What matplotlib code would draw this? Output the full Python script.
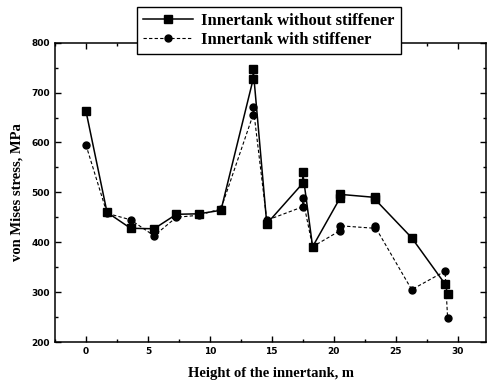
import matplotlib
matplotlib.use("Agg")
import matplotlib.pyplot as plt
from matplotlib.ticker import MultipleLocator

x_without = [0, 1.7, 3.6, 5.5, 7.3, 9.1, 10.9, 13.5, 13.5, 14.6, 17.5, 17.5, 18.3, 20.5, 20.5, 23.3, 23.3, 26.3, 29.0, 29.2]
y_without = [663, 460, 428, 427, 456, 457, 464, 727, 747, 437, 518, 540, 391, 488, 496, 490, 487, 409, 316, 297]

x_with = [0, 1.7, 3.6, 5.5, 7.3, 9.1, 10.9, 13.5, 13.5, 14.6, 17.5, 17.5, 18.3, 20.5, 20.5, 23.3, 23.3, 26.3, 29.0, 29.2]
y_with = [595, 458, 445, 413, 450, 454, 467, 656, 672, 444, 471, 488, 391, 423, 433, 428, 433, 305, 342, 248]

label_without = "Innertank without stiffener"
label_with = "Innertank with stiffener"

fig = plt.figure(figsize=(4.88, 3.85), dpi=100)
ax = fig.add_axes([55/488, 1-342/385, 431/488, (342-42.7)/385])

ax.plot(x_without, y_without, color="black", lw=1.1, marker="s", ms=6, label=label_without)
ax.plot(x_with, y_with, color="black", lw=0.8, ls=(0, (3, 2)), marker="o", ms=5, label=label_with)

ax.set_xlim(-2.5, 32.3)
ax.set_ylim(200, 800)
ax.xaxis.set_major_locator(MultipleLocator(5))
ax.xaxis.set_minor_locator(MultipleLocator(2.5))
ax.yaxis.set_major_locator(MultipleLocator(100))
ax.yaxis.set_minor_locator(MultipleLocator(50))
ax.tick_params(which="both", direction="in", top=True, right=True, labelsize=6.5)
ax.tick_params(which="major", length=4, width=1)
ax.tick_params(which="minor", length=2, width=1)
for lab in ax.get_xticklabels() + ax.get_yticklabels():
    lab.set_fontweight("bold")
    lab.set_family("DejaVu Sans")
for s in ax.spines.values():
    s.set_linewidth(1.1)

ax.set_xlabel("Height of the innertank, m", family="Liberation Serif", fontweight="bold", fontsize=10.5, labelpad=8)
ax.set_ylabel("von Mises stress, MPa", family="Liberation Serif", fontweight="bold", fontsize=10.5, labelpad=6)

leg = fig.legend(loc="upper center", bbox_to_anchor=(269/488, 1-7/385),
                 prop={"family": "Liberation Serif", "weight": "bold", "size": 12},
                 frameon=True, fancybox=False, edgecolor="black", framealpha=1,
                 handlelength=3.0, borderpad=0.35, labelspacing=0.2, borderaxespad=0,
                 handletextpad=0.5)
leg.get_frame().set_linewidth(1.0)

fig.savefig("out.png", dpi=100)
